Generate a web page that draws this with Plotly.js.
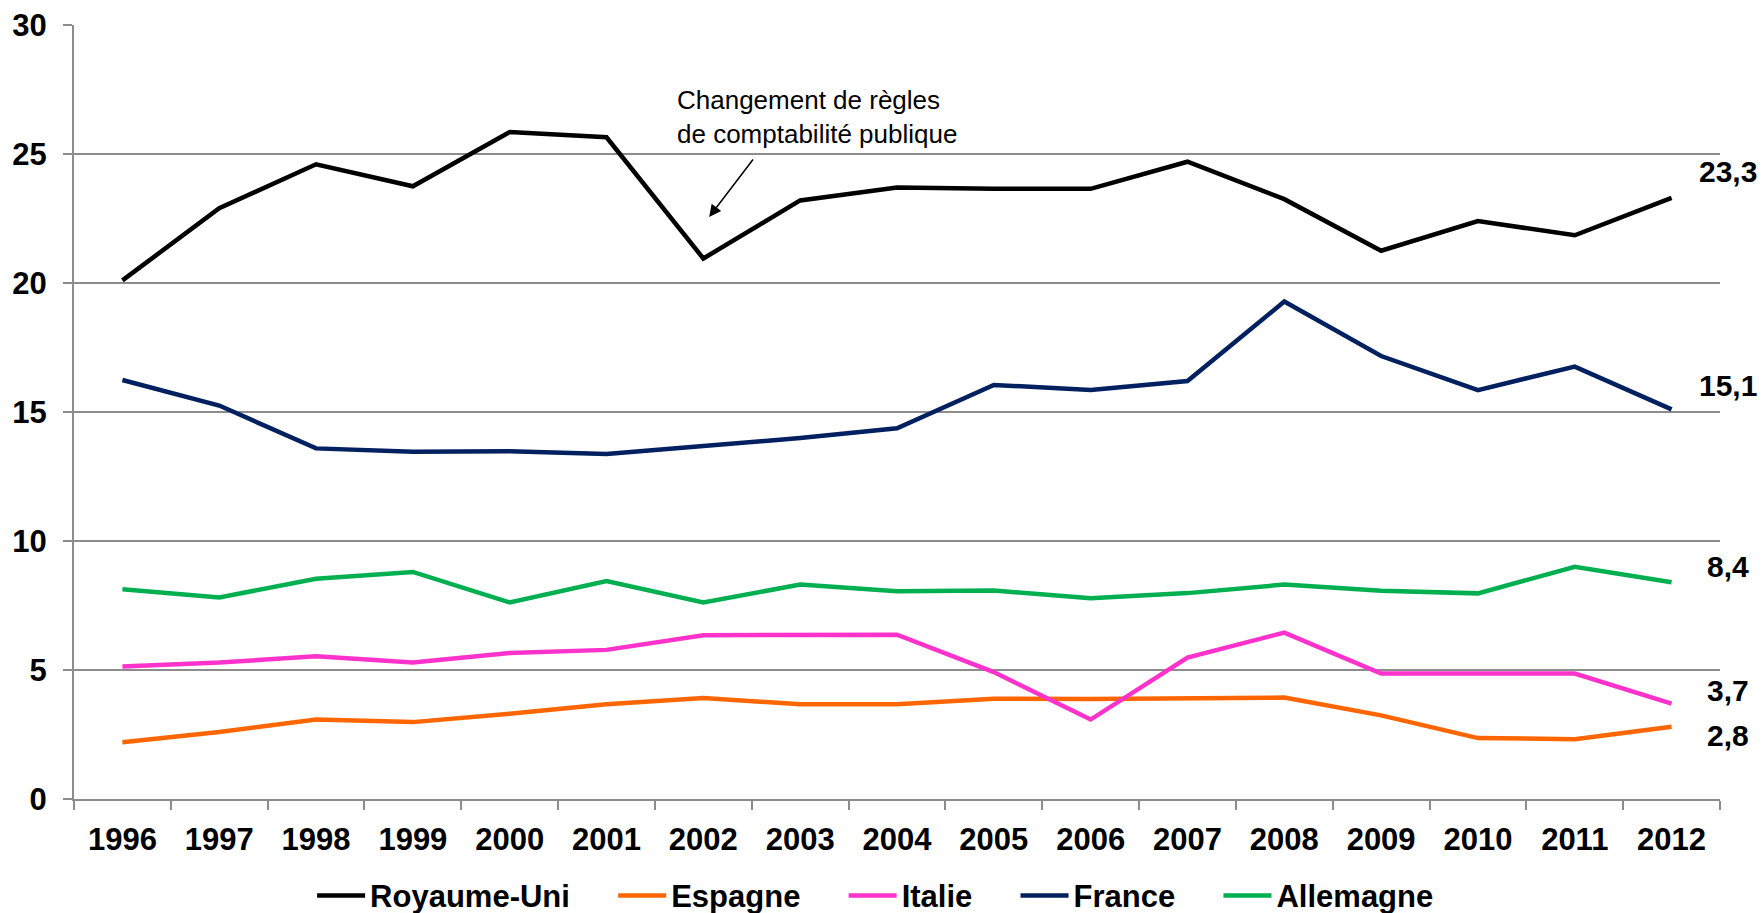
<!DOCTYPE html>
<html>
<head>
<meta charset="utf-8">
<script src="https://cdn.plot.ly/plotly-3.0.1.min.js"></script>
<style>
html, body { margin: 0; padding: 0; background: #ffffff; }
#chart { width: 1763px; height: 913px; }
</style>
</head>
<body>
<div id="chart"></div>
<script>
// ---- data ----
var years = ['1996','1997','1998','1999','2000','2001','2002','2003','2004','2005','2006','2007','2008','2009','2010','2011','2012'];
var royaumeUni = [20.1, 22.9, 24.6, 23.75, 25.85, 25.65, 20.95, 23.2, 23.7, 23.65, 23.65, 24.7, 23.25, 21.25, 22.4, 21.85, 23.3];
var espagne    = [2.2, 2.6, 3.08, 2.98, 3.3, 3.67, 3.91, 3.67, 3.67, 3.89, 3.88, 3.89, 3.93, 3.24, 2.36, 2.32, 2.8];
var italie     = [5.14, 5.29, 5.53, 5.29, 5.66, 5.78, 6.35, 6.35, 6.37, 4.92, 3.08, 5.48, 6.45, 4.86, 4.86, 4.86, 3.7];
var france     = [16.24, 15.25, 13.59, 13.46, 13.48, 13.37, 13.68, 13.99, 14.37, 16.05, 15.85, 16.2, 19.28, 17.17, 15.85, 16.76, 15.1];
var allemagne  = [8.13, 7.81, 8.54, 8.8, 7.62, 8.45, 7.62, 8.31, 8.05, 8.08, 7.78, 7.98, 8.31, 8.07, 7.97, 9.0, 8.4];
var seriesNames = ['Royaume-Uni', 'Espagne', 'Italie', 'France', 'Allemagne'];
var yTickVals = [0, 5, 10, 15, 20, 25, 30];
var annotationText = 'Changement de règles<br>de comptabilité publique';

// ---- styles ----
var seriesData = [royaumeUni, espagne, italie, france, allemagne];
var colors = ['#000000', '#FF6600', '#FF33CC', '#002060', '#00B050'];
var labelShift = [26, -9, 13, 24, 16];
var FONT = '"Liberation Sans", Arial, Helvetica, sans-serif';
var GRID = '#8C8C8C';
var LEGEND_PAD = '\u00A0\u00A0\u00A0\u2009\u2009';

var traces = seriesNames.map(function (name, i) {
  return {
    type: 'scatter', mode: 'lines',
    name: i < seriesNames.length - 1 ? name + LEGEND_PAD : name,
    x: years, y: seriesData[i],
    line: { color: colors[i], width: 4.5 },
    hoverinfo: 'x+y'
  };
});

var annotations = seriesNames.map(function (name, i) {
  var arr = seriesData[i];
  var last = arr[arr.length - 1];
  return {
    xref: 'x', yref: 'y', x: years.length - 1, y: last,
    text: last.toFixed(1).replace('.', ','),
    showarrow: false, xanchor: 'center', yanchor: 'middle',
    xshift: 56, yshift: labelShift[i],
    font: { family: FONT, size: 30, color: '#000000', weight: 'bold' }
  };
});

annotations.push({
  xref: 'x', yref: 'y', x: 5.707, y: 26.43,
  text: annotationText, showarrow: false,
  xanchor: 'left', yanchor: 'middle', align: 'left',
  font: { family: FONT, size: 26, color: '#000000' }
});
annotations.push({
  xref: 'x', yref: 'y', x: 6.06, y: 22.56,
  text: '', showarrow: true,
  ax: 45, ay: -59,
  arrowhead: 2, arrowsize: 1.6, arrowwidth: 1.5, arrowcolor: '#000000'
});

var layout = {
  width: 1763, height: 913,
  paper_bgcolor: '#ffffff', plot_bgcolor: '#ffffff',
  margin: { l: 74, r: 43, t: 25, b: 114, pad: 0, autoexpand: false },
  font: { family: FONT, size: 30, color: '#000000' },
  showlegend: true,
  legend: {
    orientation: 'h', x: 0.487, xanchor: 'center', y: -0.125, yanchor: 'middle',
    font: { family: FONT, size: 31, color: '#000000', weight: 'bold' },
    itemwidth: 48, traceorder: 'normal'
  },
  xaxis: {
    type: 'category', tickson: 'boundaries', range: [-0.5, years.length - 0.5],
    showgrid: false, zeroline: false,
    showline: true, linecolor: GRID, linewidth: 2,
    ticks: 'outside', ticklen: 9, tickwidth: 2, tickcolor: GRID,
    ticklabelstandoff: 12,
    tickfont: { family: FONT, size: 31, color: '#000000', weight: 'bold' },
    fixedrange: true
  },
  yaxis: {
    range: [0, 30], tickvals: yTickVals, ticktext: yTickVals.map(String),
    showgrid: true, gridcolor: GRID, gridwidth: 2,
    zeroline: false,
    showline: true, linecolor: GRID, linewidth: 2,
    ticks: 'outside', ticklen: 9, tickwidth: 2, tickcolor: GRID,
    ticklabelstandoff: 10,
    tickfont: { family: FONT, size: 31, color: '#000000', weight: 'bold' },
    fixedrange: true
  },
  annotations: annotations
};

Plotly.newPlot('chart', traces, layout, { displayModeBar: false, staticPlot: true });
</script>
</body>
</html>
